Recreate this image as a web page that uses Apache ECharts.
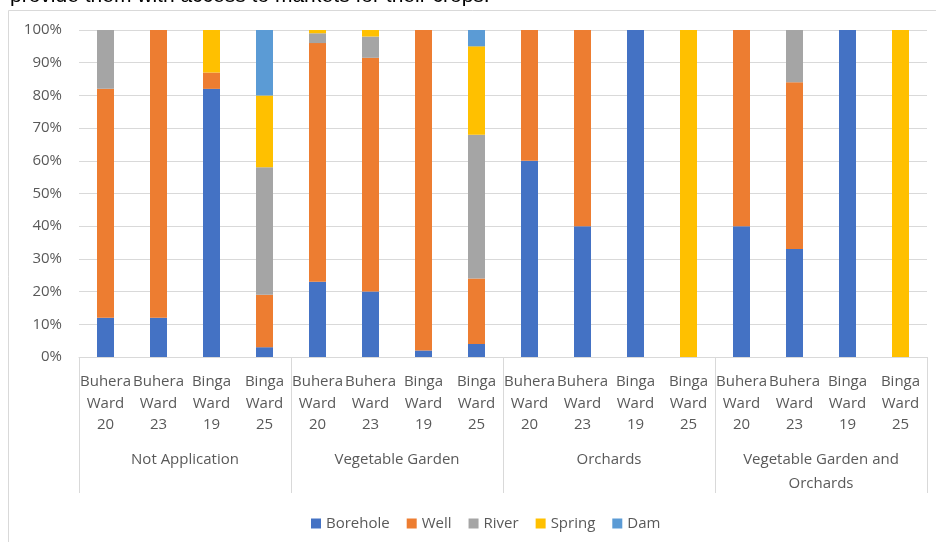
<!DOCTYPE html>
<html>
<head>
<meta charset="utf-8">
<script src="https://cdn.jsdelivr.net/npm/echarts@6/dist/echarts.min.js"></script>
<style>html,body{margin:0;padding:0;background:#fff}#c{width:936px;height:542px}</style>
</head>
<body>
<div id="c"></div>
<script>
const wards = ["Buhera\nWard\n20","Buhera\nWard\n23","Binga\nWard\n19","Binga\nWard\n25"];
const groups = ["Not Application","Vegetable Garden","Orchards","Vegetable Garden and\nOrchards"];
const seriesNames = ["Borehole","Well","River","Spring","Dam"];
const colors = ["#4472C4","#ED7D31","#A5A5A5","#FFC000","#5B9BD5"];
// values in %, order: NA(B20,B23,Bi19,Bi25), VG(...), O(...), VGO(...)
const borehole = [12,12,82,3, 23,20,2,4, 60,40,100,0, 40,33,100,0];
const well     = [70,88,5,16, 73,71.5,98,20, 40,60,0,0, 60,51,0,0];
const river    = [18,0,0,39, 3,6.5,0,44, 0,0,0,0, 0,16,0,0];
const spring   = [0,0,13,22, 1,2,0,27, 0,0,0,100, 0,0,0,100];
const dam      = [0,0,0,20, 0,0,0,5, 0,0,0,0, 0,0,0,0];
const yTicks = [0,10,20,30,40,50,60,70,80,90,100];
const headerText = "provide them with access to markets for their crops.";

const categories = [];
groups.forEach(() => wards.forEach(w => categories.push(w)));
const dataSets = [borehole, well, river, spring, dam];

const chart = echarts.init(document.getElementById('c'), null, {renderer:'canvas'});
const font = "'Open Sans', sans-serif";
chart.setOption({
  animation: false,
  textStyle: {fontFamily: font},
  graphic: [
    {type:'rect', shape:{x:8.5,y:10.5,width:940,height:540}, style:{fill:'none', stroke:'#d9d9d9', lineWidth:1}, z:-1},
    {type:'text', x:10, y:-4, style:{text: headerText, font:"21px 'Liberation Sans', Arial, sans-serif", fill:'#000', verticalAlign:'middle'}}
  ],
  grid: {left:79, right:9, top:30, bottom:185, containLabel:false},
  legend: {
    left: 306, top: 511, itemWidth:10, itemHeight:10, itemGap:17,
    icon: 'rect',
    textStyle: {fontFamily: font, fontSize:15, color:'#595959'},
    data: seriesNames
  },
  xAxis: [
    {type:'category', data: categories, position:'bottom',
     axisLine:{lineStyle:{color:'#d9d9d9'}}, axisTick:{show:false},
     axisLabel:{interval:0, margin:14, fontSize:15, lineHeight:21.5, color:'#595959', fontFamily:font, align:'center'}},
    {type:'category', data: groups, position:'bottom', offset:0,
     axisLine:{show:false},
     axisTick:{show:true, length:136, lineStyle:{color:'#d9d9d9'}},
     axisLabel:{interval:0, margin:91, fontSize:15, lineHeight:23.5, color:'#595959', fontFamily:font}}
  ],
  yAxis: {type:'value', min:0, max:100, interval:10,
    axisLine:{show:false}, axisTick:{show:false},
    splitLine:{lineStyle:{color:'#d9d9d9'}},
    axisLabel:{formatter:'{value}%', margin:17, fontSize:15, color:'#595959', fontFamily:font}},
  series: seriesNames.map((n,i) => ({
    name:n, type:'bar', stack:'total', xAxisIndex:0, barWidth:17,
    itemStyle:{color:colors[i]}, data: dataSets[i]
  }))
});
</script>
</body>
</html>
